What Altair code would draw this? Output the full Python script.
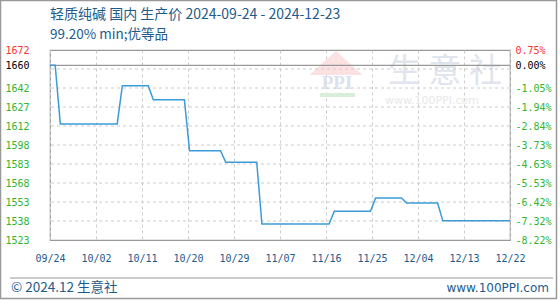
import json
import altair as alt
import pandas as pd

# ---- data ----
days = [0, 1, 2, 13, 14, 19, 20, 26, 27, 33, 34, 40, 41, 54, 55, 62, 63, 68, 69, 75, 76, 89]
prices = [1660, 1660, 1614, 1614, 1644, 1644, 1633, 1633, 1593, 1593, 1584, 1584,
          1535.5, 1535.5, 1545.5, 1545.5, 1556, 1556, 1552, 1552, 1538, 1538]

x_tick_pos = [0, 8.9, 17.8, 26.7, 35.6, 44.5, 53.4, 62.3, 71.2, 80.1, 89]
x_labels = ["09/24", "10/02", "10/11", "10/20", "10/29", "11/07", "11/16",
            "11/25", "12/04", "12/13", "12/22"]

y_ticks = [1523, 1537.9, 1552.8, 1567.7, 1582.6, 1597.5, 1612.4, 1627.3, 1642.2, 1660, 1672]
y_labels = ["1523", "1538", "1553", "1568", "1583", "1598", "1612", "1627", "1642", "1660", "1672"]
pct_labels = ["-8.22%", "-7.32%", "-6.42%", "-5.53%", "-4.63%", "-3.73%", "-2.84%",
              "-1.94%", "-1.05%", "0.00%", "0.75%"]
y_grid = [1537.9, 1552.8, 1567.7, 1582.6, 1597.5, 1612.4, 1627.3, 1642.2, 1657.1]
base_price = 1660
y_min, y_max = 1523, 1672
x_min, x_max = 0, 89

title1 = "轻质纯碱 国内 生产价 2024-09-24 - 2024-12-23"
title2 = "99.20% min;优等品"
footer_left = "© 2024.12 生意社"
footer_right = "www.100PPI.com"

# ---- tables ----
line_df = pd.DataFrame({"day": days, "price": prices})
ygrid_df = pd.DataFrame({"price": y_grid})
base_df = pd.DataFrame({"price": [base_price]})

BLUE_TXT = "#1d5b8c"
GREEN = "#2fb52f"
RED = "#ff3030"
MONO = "DejaVu Sans Mono"
SANS = "Noto Sans CJK SC"

xscale = alt.Scale(domain=[x_min, x_max], nice=False, zero=False)
yscale = alt.Scale(domain=[y_min, y_max], nice=False, zero=False)


def lookup_expr(labels, values):
    return f"{json.dumps(labels)}[indexof({json.dumps(values)}, datum.value)]"


label_color = {
    "condition": [
        {"test": "datum.value == 1672", "value": RED},
        {"test": "datum.value == 1660", "value": "#000000"},
    ],
    "value": GREEN,
}

# watermark
wm_text = alt.Chart(pd.DataFrame({"t": ["生 意 社"]})).mark_text(
    font=SANS, fontSize=33, color="#dfe4ee", align="center", baseline="middle"
).encode(text="t:N", x=alt.value(395), y=alt.value(22))
wm_url = alt.Chart(pd.DataFrame({"t": ["www.100PPI.com"]})).mark_text(
    font="DejaVu Sans", fontSize=11, color="#e8e8e8", align="center", baseline="middle"
).encode(text="t:N", x=alt.value(382), y=alt.value(51))
wm_roof = alt.Chart(pd.DataFrame({"a": [0]})).mark_point(
    shape="M-1,0.45L0,-0.45L1,0.45Z", filled=True, color="#fbe1e1", size=2800, opacity=1
).encode(x=alt.value(286), y=alt.value(13))
wm_ppi = alt.Chart(pd.DataFrame({"t": ["PPI"]})).mark_text(
    font="Liberation Serif", fontSize=19, fontWeight="bold", color="#dbe1ee",
    align="center", baseline="middle"
).encode(text="t:N", x=alt.value(287), y=alt.value(33))
wm_base = alt.Chart(pd.DataFrame({"a": [0]})).mark_rect(color="#d9eed9").encode(
    x=alt.value(270), x2=alt.value(305), y=alt.value(43), y2=alt.value(47)
)

hgrid = alt.Chart(ygrid_df).mark_rule(color="#cccccc", strokeDash=[3, 3], strokeWidth=1).encode(
    y=alt.Y("price:Q", scale=yscale, axis=None)
)

base_rule = alt.Chart(base_df).mark_rule(color="#999999", strokeWidth=1.3).encode(
    y=alt.Y(
        "price:Q", scale=yscale,
        axis=alt.Axis(
            orient="right", values=y_ticks, labelExpr=lookup_expr(pct_labels, y_ticks),
            title=None, grid=False, ticks=False, tickSize=0, domain=False,
            labelPadding=5, labelFont=MONO, labelFontSize=10, labelColor=label_color,
            labelAlign="left", labelBaseline="middle", labelOverlap=False,
        ),
    )
)

line = alt.Chart(line_df).mark_line(color="#3b9ad8", strokeWidth=1.5).encode(
    x=alt.X(
        "day:Q", scale=xscale,
        axis=alt.Axis(
            orient="bottom", values=x_tick_pos, labelExpr=lookup_expr(x_labels, x_tick_pos),
            title=None, grid=True, gridColor="#cccccc", gridDash=[3, 3], gridWidth=1,
            ticks=False, tickSize=0, domain=False,
            labelPadding=13, labelFont=MONO, labelFontSize=10, labelColor=BLUE_TXT,
            labelOverlap=False, labelFlush=False, labelAlign="center",
        ),
    ),
    y=alt.Y(
        "price:Q", scale=yscale,
        axis=alt.Axis(
            orient="left", values=y_ticks, labelExpr=lookup_expr(y_labels, y_ticks),
            title=None, grid=False, ticks=False, tickSize=0, domain=False,
            labelPadding=45, labelFont=MONO, labelFontSize=10, labelColor=label_color,
            labelAlign="left", labelBaseline="middle", labelOverlap=False,
        ),
    ),
)

t1 = alt.Chart(pd.DataFrame({"t": [title1]})).mark_text(
    font=SANS, fontSize=14, color=BLUE_TXT, align="left", baseline="middle"
).encode(text="t:N", x=alt.value(0), y=alt.value(-35))
t2 = alt.Chart(pd.DataFrame({"t": [title2]})).mark_text(
    font=SANS, fontSize=13.5, color=BLUE_TXT, align="left", baseline="middle"
).encode(text="t:N", x=alt.value(0), y=alt.value(-15))

foot_rule = alt.Chart(pd.DataFrame({"a": [0]})).mark_rule(color="#999999", strokeWidth=1).encode(
    x=alt.value(-40), x2=alt.value(503), y=alt.value(228)
)
f1 = alt.Chart(pd.DataFrame({"t": [footer_left]})).mark_text(
    font=SANS, fontSize=13.5, color=BLUE_TXT, align="left", baseline="middle"
).encode(text="t:N", x=alt.value(-39), y=alt.value(238))
f2 = alt.Chart(pd.DataFrame({"t": [footer_right]})).mark_text(
    font="DejaVu Sans", fontSize=12, color=BLUE_TXT, align="right", baseline="middle"
).encode(text="t:N", x=alt.value(499), y=alt.value(238))

frame = alt.Chart(pd.DataFrame({"a": [0]})).mark_rect(
    fill=None, stroke="#999999", strokeWidth=1.5
).encode(x=alt.value(-49.5), x2=alt.value(506.5), y=alt.value(-49.5), y2=alt.value(248.5))

chart = alt.layer(
    wm_roof, wm_ppi, wm_base, wm_text, wm_url,
    hgrid, base_rule, line,
    t1, t2, foot_rule, f1, f2, frame,
).resolve_scale(y="independent").properties(
    width=460, height=190,
    autosize=alt.AutoSizeParams(type="none"),
    padding={"left": 50, "top": 50, "right": 50, "bottom": 60},
    background="white",
).configure_view(stroke="#999999", strokeWidth=1.2)

chart.save("out.html", embed_options={"renderer": "svg", "actions": False})
